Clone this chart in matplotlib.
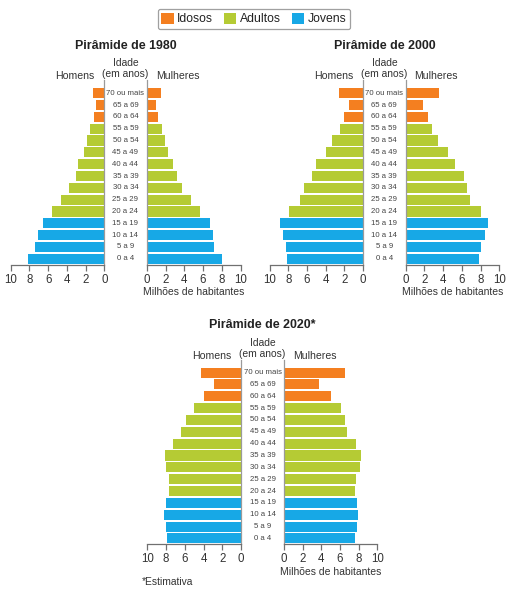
import matplotlib
matplotlib.use("Agg")
import matplotlib.pyplot as plt
from matplotlib.patches import Patch
from matplotlib.transforms import blended_transform_factory

plt.rcParams['font.family'] = ['Liberation Sans', 'DejaVu Sans']

W, H = 514, 597

ages = ['0 a 4', '5 a 9', '10 a 14', '15 a 19', '20 a 24', '25 a 29', '30 a 34',
        '35 a 39', '40 a 44', '45 a 49', '50 a 54', '55 a 59', '60 a 64', '65 a 69', '70 ou mais']

# milhões de habitantes, de 0 a 4 até 70 ou mais
men_1980 = [8.2, 7.4, 7.1, 6.6, 5.6, 4.6, 3.8, 3.0, 2.8, 2.2, 1.9, 1.5, 1.1, 0.9, 1.2]
women_1980 = [8.0, 7.2, 7.0, 6.7, 5.7, 4.7, 3.8, 3.2, 2.8, 2.3, 1.9, 1.6, 1.2, 1.0, 1.5]
men_2000 = [8.1, 8.2, 8.6, 8.9, 7.9, 6.7, 6.3, 5.5, 5.0, 4.0, 3.3, 2.5, 2.0, 1.5, 2.6]
women_2000 = [7.8, 8.0, 8.5, 8.8, 8.0, 6.9, 6.6, 6.2, 5.3, 4.5, 3.5, 2.8, 2.4, 1.9, 3.6]
men_2020 = [7.9, 8.0, 8.2, 8.0, 7.7, 7.7, 8.0, 8.1, 7.3, 6.4, 5.9, 5.0, 4.0, 2.9, 4.3]
women_2020 = [7.6, 7.8, 7.9, 7.8, 7.6, 7.7, 8.1, 8.2, 7.7, 6.8, 6.5, 6.1, 5.0, 3.8, 6.5]

groups = ['Idosos', 'Adultos', 'Jovens']
group_colors = {'Idosos': '#F47F20', 'Adultos': '#B5CB34', 'Jovens': '#17A8E6'}
age_group = ['Jovens'] * 4 + ['Adultos'] * 8 + ['Idosos'] * 3
ticks = [0, 2, 4, 6, 8, 10]

GRAY = '#707070'
TXT = '#333333'

fig = plt.figure(figsize=(W / 100, H / 100), dpi=100)


def rect(x0, x1, y0, y1):
    return [x0 / W, 1 - y1 / H, (x1 - x0) / W, (y1 - y0) / H]


def pyramid(title, men, women, lx, rx, ytop, ybot):
    colors = [group_colors[g] for g in age_group]
    y = list(range(len(ages)))
    axl = fig.add_axes(rect(lx[0], lx[1], ytop, ybot))
    axr = fig.add_axes(rect(rx[0], rx[1], ytop, ybot))
    axl.barh(y, men, height=0.85, color=colors)
    axr.barh(y, women, height=0.85, color=colors)
    axl.set_xlim(10, 0)
    axr.set_xlim(0, 10)
    for ax in (axl, axr):
        ax.set_ylim(-0.5, 14.5)
        ax.set_yticks([])
        ax.set_xticks(ticks)
        for s in ('top', 'left', 'right'):
            ax.spines[s].set_visible(False)
        ax.spines['bottom'].set_color(GRAY)
        ax.spines['bottom'].set_linewidth(0.9)
        ax.tick_params(axis='x', direction='out', length=4, width=0.9, color=GRAY,
                       labelsize=8.3, labelcolor=TXT, pad=2.5)
        ax.patch.set_visible(False)
        ax.axvline(0, ymin=0, ymax=1.04, color='#9a9a9a', lw=0.9, clip_on=False)

    cx = (lx[1] + rx[0]) / 2
    tr = blended_transform_factory(fig.transFigure, axr.transData)
    for i, a in enumerate(ages):
        axr.text(cx / W, i, a, transform=tr, ha='center', va='center',
                 fontsize=5.6, color='#444444')

    fig.text(cx / W, 1 - (ytop - 41.5) / H, title, ha='center', va='center',
             fontsize=8.9, fontweight='bold', color='#222222')
    fig.text(cx / W, 1 - (ytop - 24) / H, 'Idade', ha='center', va='center',
             fontsize=7.4, color=TXT)
    fig.text(cx / W, 1 - (ytop - 13) / H, '(em anos)', ha='center', va='center',
             fontsize=7.4, color=TXT)
    fig.text((cx - 51) / W, 1 - (ytop - 11) / H, 'Homens', ha='center', va='center',
             fontsize=7.6, color=TXT)
    fig.text((cx + 52) / W, 1 - (ytop - 11) / H, 'Mulheres', ha='center', va='center',
             fontsize=7.6, color=TXT)
    fig.text((rx[0] + rx[1]) / 2 / W, 1 - (ybot + 27.5) / H, 'Milhões de habitantes',
             ha='center', va='center', fontsize=7.5, color=TXT)


pyramid('Pirâmide de 1980', men_1980, women_1980, (10.7, 104.3), (146.7, 240.7), 87.3, 264.7)
pyramid('Pirâmide de 2000', men_2000, women_2000, (269.7, 363.0), (405.7, 499.3), 87.3, 264.7)
pyramid('Pirâmide de 2020*', men_2020, women_2020, (147.3, 241.0), (284.0, 377.3), 366.7, 544.3)

fig.text(142 / W, 1 - 582 / H, '*Estimativa', ha='left', va='center',
         fontsize=7.4, color=TXT)

handles = [Patch(facecolor=group_colors[g], label=g) for g in groups]
leg = fig.legend(handles=handles, loc='center', bbox_to_anchor=(254 / W, 1 - 19 / H),
                 ncol=3, fontsize=8.8, frameon=True, fancybox=True, handlelength=1.0,
                 handleheight=1.0, handletextpad=0.3, columnspacing=0.9,
                 borderpad=0.3, edgecolor='#888888')
leg.get_frame().set_linewidth(0.9)
for t in leg.get_texts():
    t.set_color('#222222')

fig.savefig('out.png', dpi=100, facecolor='white')
